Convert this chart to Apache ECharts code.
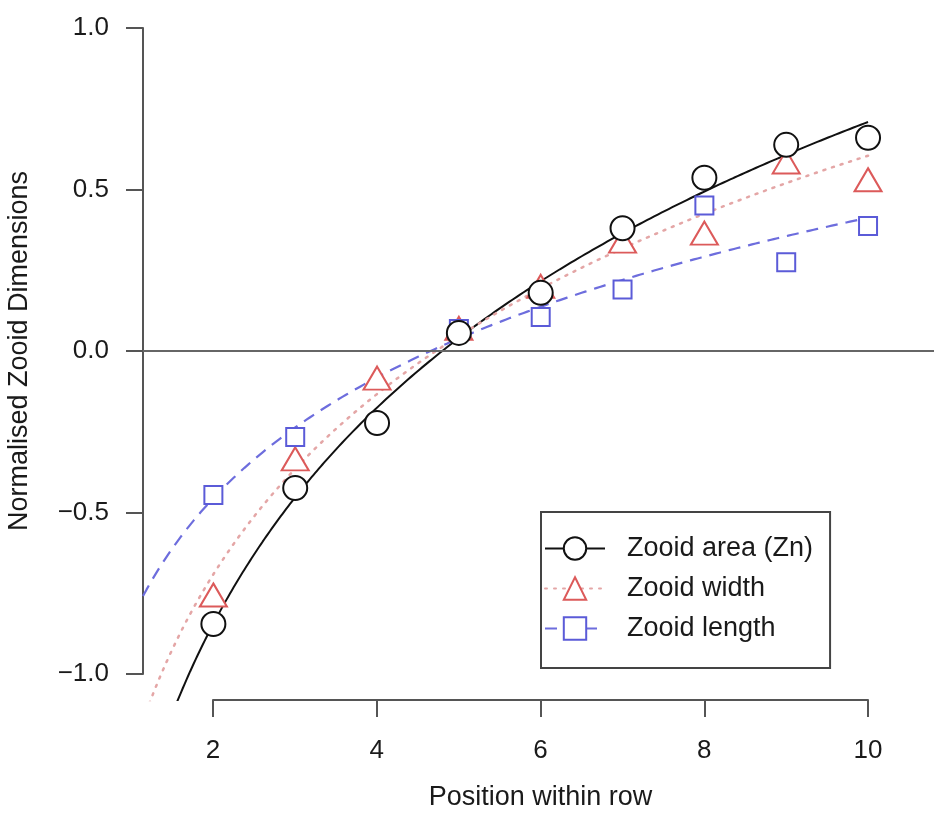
<!DOCTYPE html>
<html><head><meta charset="utf-8">
<script src="https://cdn.jsdelivr.net/npm/echarts@6/dist/echarts.min.js"></script>
<style>html,body{margin:0;padding:0;background:#fff}#c{width:934px;height:817px}</style>
</head><body><div id="c"></div>
<script>
// ---- data ----
const positions = [2, 3, 4, 5, 6, 7, 8, 9, 10];
const areaValues = [-0.845, -0.424, -0.223, 0.056, 0.18, 0.38, 0.536, 0.638, 0.66];
const widthValues = [-0.755, -0.334, -0.084, 0.07, 0.2, 0.34, 0.365, 0.585, 0.53];
const lengthValues = [-0.446, -0.266, null, 0.068, 0.105, 0.19, 0.45, 0.275, 0.387];
const seriesNames = ['Zooid area (Zn)', 'Zooid width', 'Zooid length'];
const xTickValues = [2, 4, 6, 8, 10];
const yTickValues = [-1, -0.5, 0, 0.5, 1];
const xTitle = 'Position within row';
const yTitle = 'Normalised Zooid Dimensions';

// ---- helpers ----
function pairs(vals) {
  const out = [];
  positions.forEach((x, i) => { if (vals[i] !== null) out.push([x, vals[i]]); });
  return out;
}
// least-squares fit y = a + b ln(x)
function logFit(vals) {
  const p = pairs(vals);
  const lx = p.map(d => Math.log(d[0])), ys = p.map(d => d[1]);
  const n = p.length;
  const mx = lx.reduce((s, v) => s + v, 0) / n, my = ys.reduce((s, v) => s + v, 0) / n;
  let sxy = 0, sxx = 0;
  for (let i = 0; i < n; i++) { sxy += (lx[i] - mx) * (ys[i] - my); sxx += (lx[i] - mx) * (lx[i] - mx); }
  const b = sxy / sxx, a = my - b * mx;
  return { a, b };
}
const xRegionMin = 1.14, xRegionMax = 10.806;
function fitCurve(vals) {
  const f = logFit(vals);
  const pts = [];
  const from = xRegionMin, to = positions[positions.length - 1];
  const steps = 400;
  for (let k = 0; k <= steps; k++) {
    const x = from + (to - from) * k / steps;
    pts.push([x, f.a + f.b * Math.log(x)]);
  }
  return pts;
}

const FONT = "'Liberation Sans', Arial, Helvetica, sans-serif";
const colors = {
  area: '#111111',
  widthPt: '#dc5a5a', widthLine: '#e4a6a6',
  lengthPt: '#5b5bd8', lengthLine: '#6d6ddd'
};

const chart = echarts.init(document.getElementById('c'), null, { renderer: 'canvas' });

const option = {
  backgroundColor: '#ffffff',
  animation: false,
  grid: [
    { left: 143, right: 0, top: 2, bottom: 117, containLabel: false, outerBoundsMode: 'none' },
    { left: 213, right: 66, top: 28, bottom: 143, containLabel: false, outerBoundsMode: 'none' }
  ],
  xAxis: [
    { gridIndex: 0, type: 'value', min: xRegionMin, max: xRegionMax, show: false },
    {
      gridIndex: 1, type: 'value', min: xTickValues[0], max: xTickValues[xTickValues.length - 1],
      interval: 2, offset: 26,
      name: xTitle, nameLocation: 'middle', nameGap: 84,
      nameTextStyle: { fontFamily: FONT, fontSize: 27, color: '#1a1a1a' },
      axisLine: { show: true, onZero: false, lineStyle: { color: '#555', width: 2 } },
      axisTick: { show: true, inside: false, length: 17, lineStyle: { color: '#555', width: 2 } },
      axisLabel: { margin: 38, fontFamily: FONT, fontSize: 26, color: '#1a1a1a' },
      splitLine: { show: false }
    }
  ],
  yAxis: [
    { gridIndex: 0, type: 'value', min: -1.08, max: 1.08, show: false },
    {
      gridIndex: 1, type: 'value', min: yTickValues[0], max: yTickValues[yTickValues.length - 1],
      interval: 0.5, offset: 70,
      name: yTitle, nameLocation: 'middle', nameGap: 110,
      nameTextStyle: { fontFamily: FONT, fontSize: 27, color: '#1a1a1a' },
      axisLine: { show: true, onZero: false, lineStyle: { color: '#555', width: 2 } },
      axisTick: { show: true, inside: false, length: 17, lineStyle: { color: '#555', width: 2 } },
      axisLabel: {
        margin: 34, fontFamily: FONT, fontSize: 26, color: '#1a1a1a',
        formatter: v => (v < 0 ? '\u2212' : '') + Math.abs(v).toFixed(1)
      },
      splitLine: { show: false }
    }
  ],
  legend: {
    left: 541, top: 512, orient: 'vertical',
    data: seriesNames,
    selectedMode: false,
    backgroundColor: '#ffffff',
    borderColor: '#444', borderWidth: 2,
    padding: [23, 17, 26, 3],
    itemWidth: 60, itemHeight: 28, itemGap: 13,
    textStyle: { fontFamily: FONT, fontSize: 27, color: '#1a1a1a', padding: [0, 0, 0, 17] }
  },
  series: [
    {
      name: seriesNames[0], type: 'line', xAxisIndex: 0, yAxisIndex: 0,
      data: fitCurve(areaValues), showSymbol: false, symbol: 'circle', clip: true,
      lineStyle: { color: colors.area, width: 2, type: 'solid' },
      itemStyle: { color: '#ffffff', borderColor: colors.area, borderWidth: 2 },
      markLine: {
        silent: true, symbol: 'none', label: { show: false },
        lineStyle: { color: '#666', width: 2, type: 'solid' },
        data: [{ yAxis: 0 }]
      },
      z: 2
    },
    {
      name: seriesNames[1], type: 'line', xAxisIndex: 0, yAxisIndex: 0,
      data: fitCurve(widthValues), showSymbol: false, symbol: 'triangle', clip: true,
      lineStyle: { color: colors.widthLine, width: 2.5, type: [2, 7], cap: 'round' },
      itemStyle: { color: '#ffffff', borderColor: colors.widthPt, borderWidth: 2 },
      z: 2
    },
    {
      name: seriesNames[2], type: 'line', xAxisIndex: 0, yAxisIndex: 0,
      data: fitCurve(lengthValues), showSymbol: false, symbol: 'rect', clip: true,
      lineStyle: { color: colors.lengthLine, width: 2.2, type: [12, 8] },
      itemStyle: { color: '#ffffff', borderColor: colors.lengthPt, borderWidth: 2 },
      z: 2
    },
    {
      name: seriesNames[1] + ' points', type: 'scatter', xAxisIndex: 0, yAxisIndex: 0,
      data: pairs(widthValues), symbol: 'triangle', symbolSize: [27, 23],
      itemStyle: { color: '#ffffff', borderColor: colors.widthPt, borderWidth: 2, opacity: 1 },
      z: 3
    },
    {
      name: seriesNames[2] + ' points', type: 'scatter', xAxisIndex: 0, yAxisIndex: 0,
      data: pairs(lengthValues), symbol: 'rect', symbolSize: 18,
      itemStyle: { color: '#ffffff', borderColor: colors.lengthPt, borderWidth: 2, opacity: 1 },
      z: 4
    },
    {
      name: seriesNames[0] + ' points', type: 'scatter', xAxisIndex: 0, yAxisIndex: 0,
      data: pairs(areaValues), symbol: 'circle', symbolSize: 24,
      itemStyle: { color: '#ffffff', borderColor: colors.area, borderWidth: 2, opacity: 1 },
      z: 5
    }
  ]
};
chart.setOption(option);
</script>
</body></html>
